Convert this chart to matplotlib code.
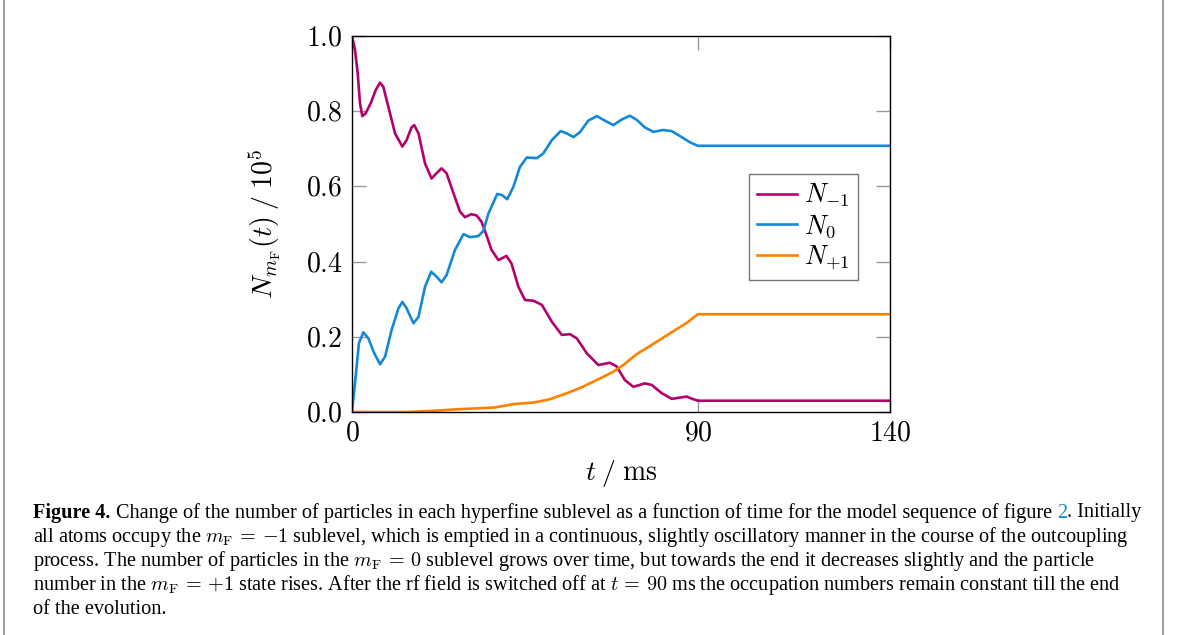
import matplotlib
matplotlib.use("Agg")
import matplotlib.pyplot as plt
from matplotlib.lines import Line2D
from matplotlib.transforms import IdentityTransform

# occupation numbers (units of 1e5 atoms), time in ms
t_minus = [0, 0.78, 1.48, 2.08, 2.68, 3.55, 4.94, 6.16, 7.29, 8.15, 9.45, 11.2, 13.1,
           14.2, 15.5, 16.2, 17.3, 19.0, 20.7, 22.0, 23.3, 24.6, 26.4, 28.1, 29.4,
           31.0, 32.4, 33.7, 35.0, 36.3, 38.1, 40.2, 41.5, 43.3, 45.0, 47.2, 49.4,
           52.0, 54.6, 56.7, 58.5, 61.1, 64.1, 67.1, 68.9, 71.0, 73.2, 76.2, 78.0,
           80.6, 83.2, 87.1, 88.8, 90, 140]
n_minus = [1.0, 0.963, 0.901, 0.821, 0.787, 0.794, 0.823, 0.856, 0.876, 0.865, 0.812,
           0.741, 0.706, 0.723, 0.757, 0.763, 0.741, 0.661, 0.621, 0.635, 0.648, 0.635,
           0.582, 0.533, 0.518, 0.526, 0.523, 0.506, 0.47, 0.431, 0.404, 0.415, 0.395,
           0.333, 0.298, 0.296, 0.285, 0.240, 0.205, 0.207, 0.196, 0.156, 0.125, 0.131,
           0.121, 0.085, 0.067, 0.076, 0.072, 0.050, 0.035, 0.041, 0.034, 0.030, 0.030]

t_zero = [0, 0.95, 1.8, 2.95, 4.25, 5.8, 7.3, 8.6, 10.3, 12.1, 13.1, 14.2, 16.0, 17.3,
          19.0, 20.6, 22.0, 23.3, 24.6, 26.8, 29.0, 30.7, 32.9, 34.2, 35.5, 37.8,
          39.0, 40.4, 42.0, 43.7, 45.5, 48.1, 49.8, 52.0, 54.3, 55.9, 57.6, 59.3,
          61.5, 63.7, 65.8, 68.0, 70.2, 72.3, 74.1, 76.2, 78.4, 81.0, 83.2, 85.8,
          88.0, 90, 140]
n_zero = [0.0, 0.094, 0.183, 0.212, 0.196, 0.156, 0.127, 0.147, 0.218, 0.276, 0.293,
          0.276, 0.236, 0.253, 0.333, 0.373, 0.360, 0.345, 0.364, 0.431, 0.473, 0.465,
          0.468, 0.482, 0.528, 0.580, 0.577, 0.566, 0.599, 0.652, 0.677, 0.675, 0.688,
          0.723, 0.747, 0.741, 0.731, 0.744, 0.775, 0.787, 0.775, 0.763, 0.778, 0.788,
          0.777, 0.757, 0.745, 0.750, 0.747, 0.731, 0.717, 0.708, 0.708]

t_plus = [0, 14.5, 22.5, 26.8, 33.3, 37.2, 42.0, 47.2, 51.5, 55.9, 59.8, 63.7, 68.0,
          70.6, 74.1, 78.4, 82.7, 87.1, 90, 140]
n_plus = [0, 0.0, 0.004, 0.007, 0.010, 0.012, 0.021, 0.025, 0.034, 0.050, 0.066,
          0.085, 0.107, 0.125, 0.154, 0.181, 0.209, 0.237, 0.260, 0.260]

x_ticks = [0, 90, 140]
y_ticks = [0.0, 0.2, 0.4, 0.6, 0.8, 1.0]

plt.rcParams['mathtext.fontset'] = 'cm'
plt.rcParams['font.family'] = ['Liberation Serif', 'DejaVu Serif']

W, H = 1179, 635
fig = plt.figure(figsize=(W / 100, H / 100), dpi=100)
ax = fig.add_axes([352 / W, 1 - 412 / H, 538 / W, 376 / H])

ax.plot(t_minus, n_minus, color='#B4006E', lw=1.9, label=r'$N_{-1}$')
ax.plot(t_zero, n_zero, color='#1488D8', lw=1.9, label=r'$N_0$')
ax.plot(t_plus, n_plus, color='#FF8000', lw=1.9, label=r'$N_{+1}$')

ax.set_xlim(0, 140)
ax.set_ylim(0, 1.0)
ax.set_xticks(x_ticks, labels=[f'${v}$' for v in x_ticks])
ax.set_yticks(y_ticks, labels=[f'${v:.1f}$' for v in y_ticks])
ax.tick_params(direction='in', length=10, width=1, color='#999999', top=True,
               right=True, labelsize=20, pad=7)
for s in ax.spines.values():
    s.set_linewidth(1.0)
    s.set_color('black')

ax.set_xlabel(r'$t\;/\;\mathrm{ms}$', fontsize=20, labelpad=8)
ax.set_ylabel(r'$N_{m_{\mathrm{F}}}(t)\;/\;10^5$', fontsize=20, labelpad=16)

leg = ax.legend(loc='upper right', bbox_to_anchor=(0.940, 0.633), fontsize=19,
                frameon=True, fancybox=False, handlelength=1.5, handletextpad=0.3,
                labelspacing=0.15, borderpad=0.3, borderaxespad=0)
leg.get_frame().set_edgecolor('#555555')
leg.get_frame().set_linewidth(1.0)

# page frame lines
fig.add_artist(Line2D([4 / W, 4 / W], [0, 1], color='#a0a0a0', lw=1.5))
fig.add_artist(Line2D([1163 / W, 1163 / W], [0, 1], color='#a0a0a0', lw=1.5))

# caption, drawn piece by piece so bold / coloured parts can sit inline
caption = [
    [("Figure 4.", 'bold', 'black'), None,
     ("Change of the number of particles in each hyperfine sublevel as a function of time for the model sequence of figure", 'normal', 'black'),
     None, ("2", 'normal', '#1a8ad4'), (". Initially", 'normal', 'black')],
    [(r"all atoms occupy the $m_{\mathrm{F}}\,=\,{-}1$ sublevel, which is emptied in a continuous, slightly oscillatory manner in the course of the outcoupling", 'normal', 'black')],
    [(r"process. The number of particles in the $m_{\mathrm{F}}\,=\,0$ sublevel grows over time, but towards the end it decreases slightly and the particle", 'normal', 'black')],
    [(r"number in the $m_{\mathrm{F}}\,=\,{+}1$ state rises. After the rf field is switched off at $t\,=\,90$ ms the occupation numbers remain constant till the end", 'normal', 'black')],
    [("of the evolution.", 'normal', 'black')],
]
line_y = [513, 537, 561, 585, 609]

renderer = fig.canvas.get_renderer()


def draw_line(pieces, x, y, size):
    space = None
    texts = []
    for p in pieces:
        if p is None:
            if space is None:
                a = fig.text(0, 0, 'a a', fontsize=size, transform=IdentityTransform())
                b = fig.text(0, 0, 'aa', fontsize=size, transform=IdentityTransform())
                space = a.get_window_extent(renderer).width - b.get_window_extent(renderer).width
                a.remove()
                b.remove()
            x += space
            continue
        s, weight, col = p
        t = fig.text(x, H - y, s, fontsize=size, fontweight=weight, color=col,
                     va='center', ha='left', transform=IdentityTransform())
        texts.append(t)
        x += t.get_window_extent(renderer).width
    return x - 33, texts


# fit the caption size so the first line spans the text block
w, tmp = draw_line(caption[0], 33, -100, 12)
for t in tmp:
    t.remove()
size = 12 * 1102 / w
for pieces, yy in zip(caption, line_y):
    draw_line(pieces, 33, yy, size)

fig.savefig('out.png', dpi=100)
